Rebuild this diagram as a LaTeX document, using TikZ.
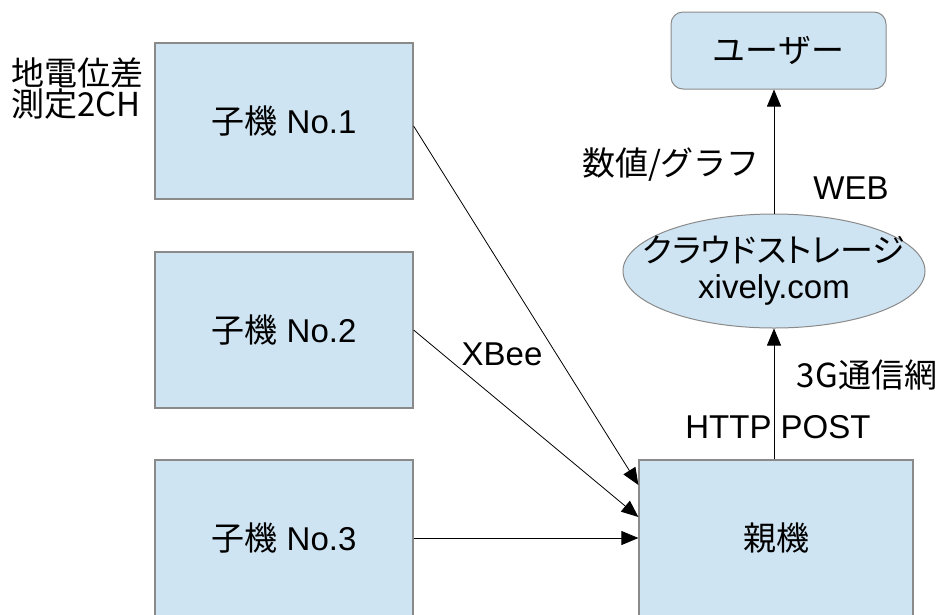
\documentclass[tikz,border=0pt]{standalone}
\usepackage{fontspec}
\setmainfont{Liberation Sans}
\newfontfamily\jp{Noto Sans CJK JP}
\newfontfamily\jpprop[RawFeature=+palt]{Noto Sans CJK JP}
\usetikzlibrary{arrows.meta,shapes.geometric}
\definecolor{boxfill}{HTML}{CFE4F2}
\definecolor{boxline}{HTML}{8A8A8A}
\tikzset{
  txt/.style={font=\fontsize{33}{31}\selectfont, inner sep=0pt},
  unit/.style={txt, draw=boxline, line width=1.2pt, fill=boxfill,
    minimum width=258pt, minimum height=156pt},
  flow/.style={-{Triangle[length=17pt,width=14pt]}, line width=0.8pt},
}
\begin{document}
\begin{tikzpicture}[x=1pt,y=-1pt]
\useasboundingbox (0,0) rectangle (942,614);
\clip (0,0) rectangle (942,614);

% sensor units and the base unit
\node[unit] (c1) at (284,121) {{\jp 子機} No.1};
\node[unit] (c2) at (284,330) {{\jp 子機} No.2};
\node[unit] (c3) at (284,538) {{\jp 子機} No.3};
\node[unit, minimum width=274pt] (base) at (776,538) {\jp 親機};

% cloud storage and user
\node[ellipse, draw=boxline, line width=1pt, fill=boxfill, inner sep=0pt,
  minimum width=302pt, minimum height=114pt] (cloud) at (774,271) {};
\node[txt, align=center, font=\fontsize{33}{36}\selectfont] (cloudtxt)
  at (cloud.center) {{\jpprop クラウドストレージ}\\xively.com};
\node[txt, draw=boxline, line width=1pt, fill=boxfill, rounded corners=12pt,
  minimum width=215pt, minimum height=77pt] (user) at (778.5,50.5) {\jp ユーザー};

% free labels
\node[txt, anchor=west, align=left] (ch) at (11,89) {\jp 地電位差\\\jp 測定2CH};
\node[txt] (xbee) at (502,354) {XBee};
\node[txt] (http) at (778,427) {HTTP POST};
\node[txt] (net) at (867,375) {{\jp 3G通信網}};
\node[txt] (val) at (671,165) {\jp 数値/グラフ};
\node[txt] (web) at (851,188) {WEB};

% connectors
\draw[flow] ([yshift=-5pt]c1.east) -- ([yshift=53pt]base.west);
\draw[flow] (c2.east) -- ([yshift=21pt]base.west);
\draw[flow] (c3.east) -- (base.west);
\coordinate (up) at (base.north -| cloud.south);
\draw[flow] (up) -- (cloud.south);
\draw[flow] (cloud.north) -- (cloud.north |- user.south);
\end{tikzpicture}
\end{document}
